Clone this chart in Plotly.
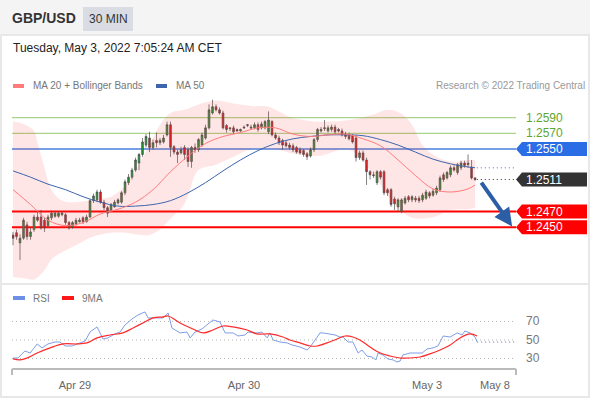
import plotly.graph_objects as go

# 30 min candles, index 0 = first visible bar
OPEN = [
    1.2440, 1.2443, 1.2430, 1.2436, 1.2453, 1.2438, 1.2447, 1.2463, 1.2463, 1.2459,
    1.2452, 1.2462, 1.2464, 1.2464, 1.2466, 1.2466, 1.2456, 1.2450, 1.2454, 1.2457,
    1.2462, 1.2457, 1.2463, 1.2484, 1.2485, 1.2495, 1.2482, 1.2475, 1.2472, 1.2476,
    1.2481, 1.2482, 1.2494, 1.2507, 1.2514, 1.2523, 1.2532, 1.2543, 1.2555, 1.2564,
    1.2552, 1.2561, 1.2558, 1.2559, 1.2568, 1.2581, 1.2553, 1.2546, 1.2545, 1.2552,
    1.2549, 1.2534, 1.2552, 1.2549, 1.2555, 1.2564, 1.2577, 1.2596, 1.2604, 1.2600,
    1.2596, 1.2580, 1.2577, 1.2577, 1.2575, 1.2573, 1.2578, 1.2580, 1.2578, 1.2577,
    1.2581, 1.2577, 1.2577, 1.2572, 1.2585, 1.2568, 1.2564, 1.2561, 1.2558, 1.2555,
    1.2554, 1.2552, 1.2549, 1.2548, 1.2544, 1.2541, 1.2549, 1.2562, 1.2573, 1.2576,
    1.2573, 1.2575, 1.2578, 1.2575, 1.2573, 1.2569, 1.2568, 1.2567, 1.2564, 1.2539,
    1.2545, 1.2536, 1.2521, 1.2517, 1.2507, 1.2521, 1.2521, 1.2498, 1.2498, 1.2486,
    1.2476, 1.2470, 1.2481, 1.2489, 1.2485, 1.2487, 1.2487, 1.2485, 1.2487, 1.2494,
    1.2491, 1.2494, 1.2498, 1.2517, 1.2513, 1.2517, 1.2526, 1.2520, 1.2526, 1.2532,
    1.2530, 1.2527, 1.2513,
]
CLOSE = [
    1.2436, 1.2438, 1.2436, 1.2459, 1.2438, 1.2444, 1.2463, 1.2459, 1.2449, 1.2449,
    1.2463, 1.2468, 1.2468, 1.2468, 1.2468, 1.2456, 1.2449, 1.2456, 1.2459, 1.2459,
    1.2457, 1.2463, 1.2484, 1.2490, 1.2495, 1.2482, 1.2475, 1.2468, 1.2479, 1.2482,
    1.2485, 1.2494, 1.2508, 1.2514, 1.2523, 1.2536, 1.2543, 1.2559, 1.2566, 1.2552,
    1.2558, 1.2558, 1.2561, 1.2564, 1.2581, 1.2552, 1.2546, 1.2543, 1.2549, 1.2543,
    1.2534, 1.2552, 1.2549, 1.2562, 1.2568, 1.2577, 1.2600, 1.2604, 1.2600, 1.2596,
    1.2577, 1.2575, 1.2576, 1.2572, 1.2573, 1.2575, 1.2577, 1.2581, 1.2577, 1.2581,
    1.2575, 1.2582, 1.2585, 1.2587, 1.2568, 1.2564, 1.2558, 1.2555, 1.2554, 1.2552,
    1.2549, 1.2546, 1.2545, 1.2543, 1.2540, 1.2549, 1.2562, 1.2575, 1.2575, 1.2577,
    1.2577, 1.2578, 1.2572, 1.2573, 1.2568, 1.2566, 1.2563, 1.2559, 1.2539, 1.2545,
    1.2536, 1.2521, 1.2517, 1.2516, 1.2521, 1.2514, 1.2494, 1.2494, 1.2479, 1.2480,
    1.2485, 1.2485, 1.2487, 1.2485, 1.2489, 1.2485, 1.2484, 1.2491, 1.2495, 1.2490,
    1.2496, 1.2500, 1.2513, 1.2511, 1.2520, 1.2526, 1.2523, 1.2530, 1.2532, 1.2529,
    1.2532, 1.2513, 1.2511,
]
HIGH = [
    1.2444, 1.2447, 1.2441, 1.2462, 1.2457, 1.2449, 1.2466, 1.2470, 1.2472, 1.2462,
    1.2466, 1.2471, 1.2471, 1.2470, 1.2470, 1.2468, 1.2458, 1.2458, 1.2462, 1.2462,
    1.2464, 1.2466, 1.2486, 1.2493, 1.2498, 1.2498, 1.2485, 1.2477, 1.2481, 1.2485,
    1.2487, 1.2496, 1.2511, 1.2518, 1.2526, 1.2539, 1.2545, 1.2564, 1.2569, 1.2572,
    1.2562, 1.2571, 1.2564, 1.2568, 1.2585, 1.2585, 1.2555, 1.2549, 1.2553, 1.2555,
    1.2552, 1.2554, 1.2557, 1.2564, 1.2571, 1.2581, 1.2607, 1.2613, 1.2607, 1.2603,
    1.2599, 1.2582, 1.2578, 1.2580, 1.2576, 1.2576, 1.2580, 1.2582, 1.2581, 1.2584,
    1.2584, 1.2585, 1.2587, 1.2598, 1.2587, 1.2571, 1.2567, 1.2563, 1.2561, 1.2558,
    1.2557, 1.2554, 1.2552, 1.2550, 1.2546, 1.2552, 1.2564, 1.2577, 1.2578, 1.2587,
    1.2580, 1.2581, 1.2581, 1.2577, 1.2576, 1.2572, 1.2571, 1.2569, 1.2567, 1.2548,
    1.2548, 1.2539, 1.2523, 1.2521, 1.2523, 1.2523, 1.2523, 1.2500, 1.2500, 1.2489,
    1.2487, 1.2487, 1.2490, 1.2491, 1.2491, 1.2490, 1.2490, 1.2494, 1.2498, 1.2496,
    1.2499, 1.2503, 1.2516, 1.2520, 1.2522, 1.2529, 1.2529, 1.2532, 1.2535, 1.2535,
    1.2543, 1.2536, 1.2514,
]
LOW = [
    1.2427, 1.2434, 1.2408, 1.2434, 1.2434, 1.2434, 1.2444, 1.2457, 1.2447, 1.2444,
    1.2449, 1.2459, 1.2462, 1.2462, 1.2464, 1.2453, 1.2447, 1.2448, 1.2452, 1.2456,
    1.2454, 1.2456, 1.2462, 1.2481, 1.2482, 1.2480, 1.2472, 1.2463, 1.2470, 1.2475,
    1.2479, 1.2480, 1.2491, 1.2504, 1.2511, 1.2521, 1.2523, 1.2540, 1.2552, 1.2546,
    1.2549, 1.2552, 1.2555, 1.2557, 1.2566, 1.2540, 1.2543, 1.2532, 1.2543, 1.2536,
    1.2527, 1.2526, 1.2545, 1.2546, 1.2553, 1.2562, 1.2575, 1.2594, 1.2598, 1.2594,
    1.2575, 1.2571, 1.2573, 1.2569, 1.2572, 1.2572, 1.2576, 1.2578, 1.2575, 1.2575,
    1.2572, 1.2575, 1.2575, 1.2569, 1.2566, 1.2562, 1.2555, 1.2549, 1.2552, 1.2549,
    1.2546, 1.2544, 1.2543, 1.2540, 1.2536, 1.2539, 1.2546, 1.2559, 1.2571, 1.2573,
    1.2571, 1.2572, 1.2569, 1.2571, 1.2566, 1.2563, 1.2561, 1.2557, 1.2534, 1.2536,
    1.2534, 1.2504, 1.2511, 1.2513, 1.2504, 1.2511, 1.2491, 1.2490, 1.2476, 1.2472,
    1.2470, 1.2468, 1.2479, 1.2482, 1.2482, 1.2482, 1.2481, 1.2482, 1.2485, 1.2487,
    1.2489, 1.2491, 1.2495, 1.2508, 1.2511, 1.2514, 1.2521, 1.2517, 1.2523, 1.2526,
    1.2526, 1.2511, 1.2509,
]

# moving averages, read at every 5th bar
MA_IDX = [0, 5, 10, 15, 20, 25, 30, 35, 40, 45, 50, 55, 60, 65,
          70, 75, 80, 85, 90, 95, 100, 105, 110, 115, 120, 125, 130, 132]
MA20 = [1.2498, 1.2479, 1.2459, 1.2452, 1.2456, 1.2467, 1.2473, 1.2482, 1.2498, 1.2521,
        1.2541, 1.2557, 1.2566, 1.2571, 1.2577, 1.2577, 1.2569, 1.2566, 1.2568, 1.2569,
        1.2563, 1.2554, 1.2536, 1.2516, 1.2499, 1.2495, 1.2499, 1.2504]
MA50 = [1.2522, 1.2514, 1.2505, 1.2498, 1.2489, 1.2482, 1.2477, 1.2477, 1.2479, 1.2484,
        1.2494, 1.2507, 1.2522, 1.2536, 1.2548, 1.2557, 1.2563, 1.2566, 1.2568, 1.2568,
        1.2567, 1.2562, 1.2555, 1.2546, 1.2537, 1.2531, 1.2527, 1.2526]

# Bollinger bands
BB_IDX = [0, 3, 6, 7, 9, 11, 14, 18, 23, 28, 32, 35, 39, 42, 45, 49, 53,
          58, 63, 68, 73, 76, 79, 87, 96, 103, 107, 111, 114, 117, 121, 125, 130, 132]
BB_UPPER = [1.2585, 1.2582, 1.2573, 1.2558, 1.2526, 1.2498, 1.2484, 1.2482, 1.2485, 1.2489,
            1.2503, 1.2523, 1.2555, 1.2581, 1.2596, 1.2600, 1.2607, 1.2612, 1.2608, 1.2605,
            1.2604, 1.2598, 1.2591, 1.2585, 1.2587, 1.2594, 1.2600, 1.2595, 1.2581, 1.2555,
            1.2540, 1.2534, 1.2536, 1.2536]
BB_LOWER = [1.2386, 1.2385, 1.2383, 1.2386, 1.2395, 1.2409, 1.2418, 1.2427, 1.2438, 1.2443,
            1.2443, 1.2441, 1.2440, 1.2447, 1.2461, 1.2480, 1.2523, 1.2530, 1.2540, 1.2550,
            1.2550, 1.2549, 1.2545, 1.2541, 1.2549, 1.2517, 1.2491, 1.2470, 1.2462, 1.2461,
            1.2464, 1.2472, 1.2473, 1.2475]

# RSI and its 9 period MA
RSI_IDX = [0, 1.4, 3.4, 4.9, 6.9, 8.3, 10, 12, 13.4, 14.9, 16.9, 19.1, 20.6, 22, 24, 25.7,
           27.1, 29.1, 30.6, 32, 34, 35.7, 37.7, 38.6, 41.1, 42.9, 44.3, 45.4, 47.7, 49.7,
           50.6, 52, 54, 55.4, 57.1, 59.1, 60.6, 62.9, 64.3, 66.3, 67.1, 69.7, 71.1, 72.6,
           73.4, 74.3, 76.3, 78.3, 79.7, 82, 84, 84.9, 85.7, 86.9, 87.7, 88.6, 90.6, 92,
           93.4, 94.3, 95.7, 97.1, 98.6, 99.7, 101.1, 102.6, 103.7, 104.3, 105.7, 107.1,
           108.6, 109.7, 110.6, 111.4, 113.4, 115.4, 116.9, 118.3, 120, 121.4, 122.9,
           124.9, 126.9, 128.3, 129.1, 130.6, 132, 132.6]
RSI = [30.5, 30.5, 38.1, 35.9, 45.7, 41.4, 45.7, 47.8, 47.8, 43.5, 43.5, 46.8, 48.9, 58.6,
       64.1, 51.1, 52.2, 56.5, 58.6, 66.2, 72.7, 77.0, 80.3, 73.8, 73.8, 73.8, 79.2, 63.0,
       57.6, 58.6, 52.2, 58.6, 61.9, 66.2, 71.6, 69.5, 57.6, 57.6, 54.3, 55.4, 58.6, 57.6,
       58.6, 52.2, 57.6, 50.0, 47.8, 46.8, 44.6, 42.4, 39.2, 42.4, 46.8, 52.2, 57.6, 57.6,
       56.5, 55.4, 53.2, 53.2, 47.8, 47.8, 35.9, 39.2, 32.7, 31.6, 28.4, 35.9, 33.8, 29.5,
       28.4, 26.2, 27.3, 33.8, 35.9, 35.9, 35.9, 40.3, 41.4, 43.5, 54.3, 53.2, 57.6, 55.4,
       59.7, 57.6, 53.2, 47.8]
RSI_MA_IDX = [0, 2, 4, 6.9, 10.6, 14.3, 18.3, 21.1, 24, 27.7, 31.4, 34.3, 37.1, 40, 42.9,
              44.3, 47.7, 51.4, 54.3, 57.1, 60, 62.9, 66.9, 69.7, 73.4, 77.1, 79.1, 82, 84.9,
              86.9, 89.7, 92.6, 94.9, 97.1, 99.1, 102, 104.9, 107.7, 110.6, 113.4, 116.3,
              119.1, 122, 124.9, 127.7, 130.6, 132.6]
RSI_MA = [29.5, 28.4, 30.5, 35.9, 41.4, 45.7, 45.7, 46.8, 52.2, 55.4, 57.6, 63.0, 68.4,
          73.8, 74.9, 75.9, 68.4, 61.9, 57.6, 60.8, 65.1, 64.1, 60.8, 56.5, 56.5, 53.2,
          50.0, 46.8, 43.5, 43.5, 46.8, 51.1, 54.3, 53.2, 50.0, 42.4, 35.9, 32.7, 30.5,
          30.5, 31.6, 34.9, 39.2, 44.6, 52.2, 56.5, 54.3]

RESISTANCES = [1.2590, 1.2570]
PIVOT = 1.2550
SUPPORTS = [1.2470, 1.2450]
RSI_LEVELS = [70, 50, 30]
TARGET = 1.2450

TICK_POS = [17.7, 66.0, 118.3, 137.7]
TICK_TEXT = ["Apr 29", "Apr 30", "May 3", "May 8"]

W, H = 590, 400
X_RANGE = [-0.29, 143.7]
GREY = "#777777"
DOTS = "1px,3px"


def px(x):
    return x / W


def py(y):
    return 1 - y / H


fig = go.Figure()

# Bollinger band fill
fig.add_trace(go.Scatter(x=BB_IDX, y=BB_LOWER, mode="lines", line=dict(width=0, shape="spline"),
                         hoverinfo="skip"))
fig.add_trace(go.Scatter(x=BB_IDX, y=BB_UPPER, mode="lines", line=dict(width=0, shape="spline"),
                         fill="tonexty", fillcolor="rgba(255,60,60,0.13)", hoverinfo="skip"))

fig.add_trace(go.Scatter(x=MA_IDX, y=MA50, mode="lines",
                         line=dict(color="#3d64ad", width=1, shape="spline")))
fig.add_trace(go.Scatter(x=MA_IDX, y=MA20, mode="lines",
                         line=dict(color="#ff7b7b", width=1, shape="spline")))

fig.add_trace(go.Candlestick(
    x=list(range(len(CLOSE))), open=OPEN, high=HIGH, low=LOW, close=CLOSE,
    increasing=dict(line=dict(color="#4a4a4a", width=0.7), fillcolor="#1f9a2e"),
    decreasing=dict(line=dict(color="#4a4a4a", width=0.7), fillcolor="#e8141b"),
    whiskerwidth=0, hoverinfo="skip",
))

# RSI panel
fig.add_trace(go.Scatter(x=RSI_IDX, y=RSI, mode="lines", xaxis="x2", yaxis="y2",
                         line=dict(color="#7f9ee6", width=1)))
fig.add_trace(go.Scatter(x=RSI_MA_IDX, y=RSI_MA, mode="lines", xaxis="x2", yaxis="y2",
                         line=dict(color="#ff2a2a", width=1.2, shape="spline")))

last = len(CLOSE) - 1
shapes = []

# header band and frame
shapes.append(dict(type="rect", xref="paper", yref="paper", x0=0, x1=1, y0=py(35), y1=1,
                   fillcolor="#f4f4f4", line=dict(width=0), layer="below"))
shapes.append(dict(type="rect", xref="paper", yref="paper", x0=px(83), x1=px(133),
                   y0=py(31), y1=py(7), fillcolor="#d9dde3", line=dict(width=0)))
shapes.append(dict(type="rect", xref="paper", yref="paper", x0=px(1), x1=px(589),
                   y0=py(397), y1=py(35), line=dict(color="#e8e8e8", width=2), layer="below"))
shapes.append(dict(type="line", xref="paper", yref="paper", x0=px(1), x1=px(589),
                   y0=py(284), y1=py(284), line=dict(color="#e8e8e8", width=2)))

# level lines
for lvl in RESISTANCES:
    shapes.append(dict(type="line", xref="x domain", yref="y", x0=0, x1=1, y0=lvl, y1=lvl,
                       line=dict(color="#a9d38a", width=1.2), layer="below"))
shapes.append(dict(type="line", xref="x domain", yref="y", x0=0, x1=1, y0=PIVOT, y1=PIVOT,
                   line=dict(color="#4a7fdc", width=1.5), layer="below"))
for lvl in SUPPORTS:
    shapes.append(dict(type="line", xref="x domain", yref="y", x0=0, x1=1, y0=lvl, y1=lvl,
                       line=dict(color="#ff0000", width=2), layer="below"))

# dotted extensions of last price and MA 50
shapes.append(dict(type="line", xref="x", yref="y", x0=last + 0.5, x1=X_RANGE[1],
                   y0=CLOSE[-1], y1=CLOSE[-1], line=dict(color="#333333", width=1, dash=DOTS)))
shapes.append(dict(type="line", xref="x", yref="y", x0=last + 0.5, x1=X_RANGE[1],
                   y0=MA50[-1], y1=MA50[-1], line=dict(color="#7f9ee6", width=1.5, dash=DOTS)))

# price tags
half = 0.0009
tags = [(PIVOT, "#2b6de4"), (CLOSE[-1], "#333333")] + [(s, "#ff0000") for s in SUPPORTS]
for val, col in tags:
    path = (f"M {px(516)},{val} L {px(522)},{val + half} L {px(587)},{val + half} "
            f"L {px(587)},{val - half} L {px(522)},{val - half} Z")
    shapes.append(dict(type="path", xref="paper", yref="y", path=path,
                       fillcolor=col, line=dict(width=0)))

# RSI guides
for lvl in RSI_LEVELS:
    shapes.append(dict(type="line", xref="x2 domain", yref="y2", x0=0, x1=1, y0=lvl, y1=lvl,
                       line=dict(color="#b5b5b5", width=1, dash=DOTS), layer="below"))
shapes.append(dict(type="line", xref="x2", yref="y2", x0=RSI_IDX[-1], x1=X_RANGE[1],
                   y0=RSI[-1], y1=RSI[-1], line=dict(color="#7f9ee6", width=1.5, dash=DOTS)))
for xe in (12, 516):
    shapes.append(dict(type="line", xref="paper", yref="paper", x0=px(xe), x1=px(xe),
                       y0=py(369), y1=py(375), line=dict(color="#bbbbbb", width=2)))

# legend swatches
for x0, col in [(13, "#ff7b7b"), (156, "#3d64ad")]:
    shapes.append(dict(type="rect", xref="paper", yref="paper", x0=px(x0), x1=px(x0 + 11),
                       y0=py(88), y1=py(84), fillcolor=col, line=dict(width=0)))
for x0, col in [(13, "#6d8fe6"), (62, "#ff1a1a")]:
    shapes.append(dict(type="rect", xref="paper", yref="paper", x0=px(x0), x1=px(x0 + 12),
                       y0=py(300), y1=py(296), fillcolor=col, line=dict(width=0)))

annotations = []


def label(x, y, text, size=10, color=GREY, anchor="left"):
    annotations.append(dict(xref="paper", yref="paper", x=px(x), y=py(y), text=text,
                            showarrow=False, xanchor=anchor, yanchor="middle",
                            font=dict(size=size, color=color)))


label(10, 18, "<b>GBP/USD</b>", size=14, color="#333333")
label(87, 19, "30 MIN", size=12, color="#333333")
label(11, 48, "Tuesday, May 3, 2022 7:05:24 AM CET", size=12, color="#222222")
label(31, 86, "MA 20 + Bollinger Bands")
label(174, 86, "MA 50")
label(587, 86, "Research © 2022 Trading Central", color="#999999", anchor="right")
label(31, 298, "RSI")
label(80, 298, "9MA")

for lvl in RESISTANCES:
    annotations.append(dict(xref="paper", yref="y", x=px(524), y=lvl, text=f"{lvl:.4f}",
                            showarrow=False, xanchor="left", yanchor="middle",
                            font=dict(size=12, color="#5fa52f")))
for val, col in tags:
    annotations.append(dict(xref="paper", yref="y", x=px(524), y=val, text=f"{val:.4f}",
                            showarrow=False, xanchor="left", yanchor="middle",
                            font=dict(size=12, color="white")))
for lvl in RSI_LEVELS:
    annotations.append(dict(xref="paper", yref="y2", x=px(524), y=lvl, text=str(lvl),
                            showarrow=False, xanchor="left", yanchor="middle",
                            font=dict(size=12, color=GREY)))

# forecast arrow towards the target
annotations.append(dict(xref="x", yref="y", axref="x", ayref="y",
                        x=142.6, y=TARGET + 0.0001, ax=last + 1.5, ay=CLOSE[-1] - 0.0002,
                        text="", showarrow=True, arrowhead=2, arrowsize=0.9, arrowwidth=4,
                        arrowcolor="#2c5ea6"))

fig.update_layout(
    width=W, height=H,
    margin=dict(l=0, r=0, t=0, b=0),
    paper_bgcolor="white", plot_bgcolor="white",
    showlegend=False,
    font=dict(family="Arial", color="#333333"),
    xaxis=dict(domain=[px(12), px(516)], range=X_RANGE, visible=False, anchor="y",
               rangeslider=dict(visible=False)),
    yaxis=dict(domain=[py(282), py(95)], range=[1.2380, 1.2619], visible=False),
    xaxis2=dict(domain=[px(12), px(516)], range=X_RANGE, anchor="y2", showline=True,
                linecolor="#bbbbbb", linewidth=2, showgrid=False, zeroline=False,
                tickvals=TICK_POS, ticktext=TICK_TEXT, ticks="", ticklabelstandoff=6,
                tickfont=dict(size=11, color="#666666")),
    yaxis2=dict(domain=[py(368), py(300)], range=[19.7, 93.2], visible=False),
    shapes=shapes,
    annotations=annotations,
)

# drop the page margin so the figure sits at the window's top-left corner
fig.write_html("out.html", config={"displayModeBar": False},
               post_script="document.body.style.margin='0';")
